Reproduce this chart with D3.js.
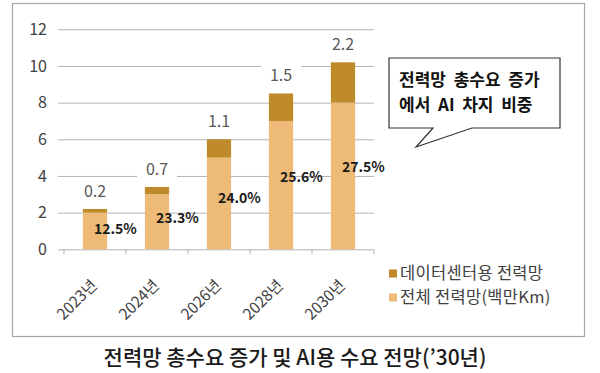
<!DOCTYPE html>
<html>
<head>
<meta charset="utf-8">
<script src="https://cdn.jsdelivr.net/npm/d3@7"></script>
<style>
  html, body { margin: 0; padding: 0; background: #fff; }
  svg text { font-family: "Noto Sans CJK KR", "Noto Sans", sans-serif; }
</style>
</head>
<body>
<figure id="chart" style="margin:0"></figure>
<script>
// chart data
const years = ['2023년', '2024년', '2026년', '2028년', '2030년'];
const totalGrid = [2.0, 3.0, 5.0, 7.0, 8.0];          // 전체 전력망(백만Km)
const dataCenterGrid = [0.2, 0.4, 1.0, 1.5, 2.2];     // 데이터센터용 전력망 (bar heights)
const dataCenterLabels = ['0.2', '0.7', '1.1', '1.5', '2.2'];
const aiShareLabels = ['12.5%', '23.3%', '24.0%', '25.6%', '27.5%'];
const yTicks = [0, 2, 4, 6, 8, 10, 12];
const seriesNames = ['전체 전력망(백만Km)', '데이터센터용 전력망'];
const legendOrder = ['데이터센터용 전력망', '전체 전력망(백만Km)'];
const calloutLines = ['전력망  총수요  증가', '에서  AI  차지  비중'];
const title = '전력망 총수요 증가 및 AI용 수요 전망(’30년)';

const config = {
  width: 600,
  height: 373,
  plot: { left: 64, right: 374, top: 29.3, bottom: 249.3 },
  colors: { '전체 전력망(백만Km)': '#edba77', '데이터센터용 전력망': '#be8a2a' }
};

const rows = years.map((yr, i) => ({
  year: yr,
  '전체 전력망(백만Km)': totalGrid[i],
  '데이터센터용 전력망': dataCenterGrid[i]
}));

const svg = d3.select('#chart').append('svg')
  .attr('width', config.width)
  .attr('height', config.height);

svg.append('rect')
  .attr('width', config.width)
  .attr('height', config.height)
  .attr('fill', '#fff');

// outer frame
svg.append('rect')
  .attr('x', 12.5).attr('y', 3.5)
  .attr('width', 572).attr('height', 333)
  .attr('fill', 'none')
  .attr('stroke', '#a6a6a6')
  .attr('stroke-width', 1.2);

const x = d3.scaleBand()
  .domain(years)
  .range([config.plot.left, config.plot.right])
  .paddingInner(0.61)
  .paddingOuter(0.305);

const y = d3.scaleLinear()
  .domain([0, 12])
  .range([config.plot.bottom, config.plot.top]);

const plotW = config.plot.right - config.plot.left;

// gridlines + y labels
const gy = svg.append('g')
  .attr('transform', `translate(${config.plot.right},0)`)
  .call(d3.axisLeft(y).tickValues(yTicks).tickSize(plotW + 6).tickFormat(d3.format('d')));
gy.select('.domain').remove();
gy.selectAll('.tick line').attr('stroke', '#b3b3b3');
gy.selectAll('.tick text')
  .attr('x', -plotW - 17)
  .attr('fill', '#404040')
  .style('font-size', '16px');

// x axis ticks at band edges
const edges = d3.range(years.length + 1).map(i => config.plot.left + i * x.step());
svg.append('g').selectAll('line')
  .data(edges)
  .enter()
  .append('line')
  .attr('x1', d => d).attr('x2', d => d)
  .attr('y1', y(0)).attr('y2', y(0) + 5)
  .attr('stroke', '#b3b3b3');

svg.append('g').selectAll('text')
  .data(years)
  .enter()
  .append('text')
  .attr('transform', d => `translate(${x(d) + x.bandwidth() / 2 + 3},${y(0) + 37}) rotate(-45)`)
  .attr('text-anchor', 'end')
  .attr('fill', '#404040')
  .style('font-size', '15.5px')
  .text(d => d);

// stacked bars
const layers = d3.stack().keys(seriesNames)(rows);

svg.append('g').selectAll('g')
  .data(layers)
  .enter()
  .append('g')
  .attr('fill', d => config.colors[d.key])
  .selectAll('rect')
  .data(d => d)
  .enter()
  .append('rect')
  .attr('x', d => x(d.data.year))
  .attr('width', x.bandwidth())
  .attr('y', d => y(d[1]))
  .attr('height', d => y(d[0]) - y(d[1]));

// data center labels with white boxes
const lbl = svg.append('g').selectAll('g')
  .data(layers[1])
  .enter()
  .append('g')
  .attr('transform', d => `translate(${x(d.data.year) + x.bandwidth() / 2},${y(d[1]) - 18})`);
lbl.append('rect')
  .attr('x', -20).attr('y', -11)
  .attr('width', 40).attr('height', 22)
  .attr('fill', '#fff');
lbl.append('text')
  .attr('text-anchor', 'middle')
  .attr('dy', '0.35em')
  .attr('fill', '#595959')
  .style('font-size', '16px')
  .text((d, i) => dataCenterLabels[i]);

// AI share labels inside light bars
svg.append('g').selectAll('text')
  .data(layers[0])
  .enter()
  .append('text')
  .attr('x', d => x(d.data.year) + x.bandwidth() / 2 - 1)
  .attr('y', d => y(d[1] * 0.56))
  .attr('dy', '0.35em')
  .attr('fill', '#1a1a1a')
  .style('font-size', '14px')
  .style('font-weight', 'bold')
  .text((d, i) => aiShareLabels[i]);

// callout
svg.append('path')
  .attr('d', 'M389,58 H560 V128 H472 L416,147 L433,128 H389 Z')
  .attr('fill', '#fff')
  .attr('stroke', '#333')
  .attr('stroke-width', 1.2);
svg.append('g').selectAll('text')
  .data(calloutLines)
  .enter()
  .append('text')
  .attr('x', 399)
  .attr('y', (d, i) => 80 + i * 25)
  .attr('dy', '0.35em')
  .attr('fill', '#111')
  .style('font-size', '17px')
  .style('font-weight', 'bold')
  .style('white-space', 'pre')
  .text(d => d);

// legend
const legend = svg.append('g').selectAll('.legend')
  .data(legendOrder)
  .enter()
  .append('g')
  .attr('class', 'legend')
  .attr('transform', (d, i) => `translate(389,${273.5 + i * 24})`);
legend.append('rect')
  .attr('y', -4)
  .attr('width', 8).attr('height', 8)
  .attr('fill', d => config.colors[d]);
legend.append('text')
  .attr('x', 11)
  .attr('dy', '0.35em')
  .attr('fill', '#404040')
  .style('font-size', '16.5px')
  .style('letter-spacing', '0.3px')
  .text(d => d);

// title
svg.append('text')
  .attr('x', 295)
  .attr('y', 358)
  .attr('dy', '0.35em')
  .attr('text-anchor', 'middle')
  .attr('fill', '#1a1a1a')
  .style('font-size', '21px')
  .style('font-weight', 500)
  .text(title);
</script>
</body>
</html>
